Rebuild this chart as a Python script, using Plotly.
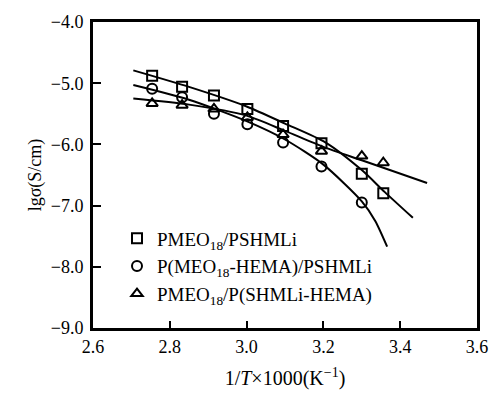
import plotly.graph_objects as go

# measured points (1000/T, lg sigma)
x_sq = [2.754, 2.832, 2.915, 3.002, 3.095, 3.195, 3.300, 3.356]
y_sq = [-4.88, -5.06, -5.20, -5.42, -5.70, -5.98, -6.48, -6.80]

x_ci = [2.754, 2.832, 2.915, 3.002, 3.095, 3.195, 3.300]
y_ci = [-5.09, -5.23, -5.50, -5.67, -5.97, -6.36, -6.95]

x_tr = [2.754, 2.832, 2.915, 3.002, 3.095, 3.195, 3.300, 3.356]
y_tr = [-5.33, -5.36, -5.42, -5.56, -5.84, -6.11, -6.19, -6.30]

# hand-drawn guide curves
cx_sq = [2.705, 2.85, 3.00, 3.10, 3.206, 3.30, 3.36, 3.433]
cy_sq = [-4.79, -5.06, -5.38, -5.66, -5.97, -6.42, -6.78, -7.20]

cx_ci = [2.705, 2.85, 3.00, 3.10, 3.20, 3.30, 3.335, 3.366]
cy_ci = [-5.03, -5.27, -5.62, -5.92, -6.33, -6.93, -7.25, -7.67]

cx_tr = [2.705, 2.85, 3.00, 3.10, 3.20, 3.30, 3.47]
cy_tr = [-5.25, -5.35, -5.53, -5.78, -6.04, -6.26, -6.63]

names = ["PMEO<sub>18</sub>/PSHMLi",
         "P(MEO<sub>18</sub>-HEMA)/PSHMLi",
         "PMEO<sub>18</sub>/P(SHMLi-HEMA)"]

x_ticks = [2.6, 2.8, 3.0, 3.2, 3.4, 3.6]
x_tick_text = ["2.6", "2.8", "3.0", "3.2", "3.4", "3.6"]
y_ticks = [-9, -8, -7, -6, -5, -4]
y_tick_text = ["\u22129.0", "\u22128.0", "\u22127.0", "\u22126.0", "\u22125.0", "\u22124.0"]

FONT = "Liberation Serif"
fig = go.Figure()

for cx, cy in [(cx_sq, cy_sq), (cx_ci, cy_ci), (cx_tr, cy_tr)]:
    fig.add_trace(go.Scatter(x=cx, y=cy, mode="lines", showlegend=False,
                             line=dict(color="black", width=2, shape="spline", smoothing=0.7),
                             hoverinfo="skip"))

for xs, ys, sym, nm in [(x_sq, y_sq, "square-open", names[0]),
                        (x_ci, y_ci, "circle-open", names[1]),
                        (x_tr, y_tr, "triangle-up-open", names[2])]:
    fig.add_trace(go.Scatter(x=xs, y=ys, mode="markers", name=nm,
                             marker=dict(symbol=sym, size=10, color="black",
                                         line=dict(width=2, color="black"))))

fig.update_layout(
    width=503, height=399,
    margin=dict(l=93, r=26, t=12, b=67),
    paper_bgcolor="white", plot_bgcolor="white",
    font=dict(family=FONT, size=18, color="black"),
    showlegend=True,
    legend=dict(x=0.0625, y=0.355, xanchor="left", yanchor="top",
                bgcolor="rgba(0,0,0,0)", font=dict(family=FONT, size=19),
                tracegroupgap=0, itemwidth=30),
)
fig.update_xaxes(range=[2.6, 3.6], tickvals=x_ticks, ticktext=x_tick_text,
                 ticks="inside", ticklen=7, tickwidth=2, tickcolor="black",
                 showline=True, linewidth=3, linecolor="black", mirror=True,
                 showgrid=False, zeroline=False,
                 tickfont=dict(family=FONT, size=18),
                 title=dict(text="1/<i>T</i>\u00d71000(K<sup>\u22121</sup>)",
                            font=dict(family=FONT, size=20), standoff=16))
fig.update_yaxes(range=[-9, -4], tickvals=y_ticks, ticktext=y_tick_text,
                 ticks="inside", ticklen=8, tickwidth=2, tickcolor="black",
                 showline=True, linewidth=3, linecolor="black", mirror=True,
                 showgrid=False, zeroline=False,
                 tickfont=dict(family=FONT, size=18), ticklabelstandoff=3,
                 title=dict(text="lg\u03c3(S/cm)", font=dict(family=FONT, size=18), standoff=5))

fig.write_html("out.html")
